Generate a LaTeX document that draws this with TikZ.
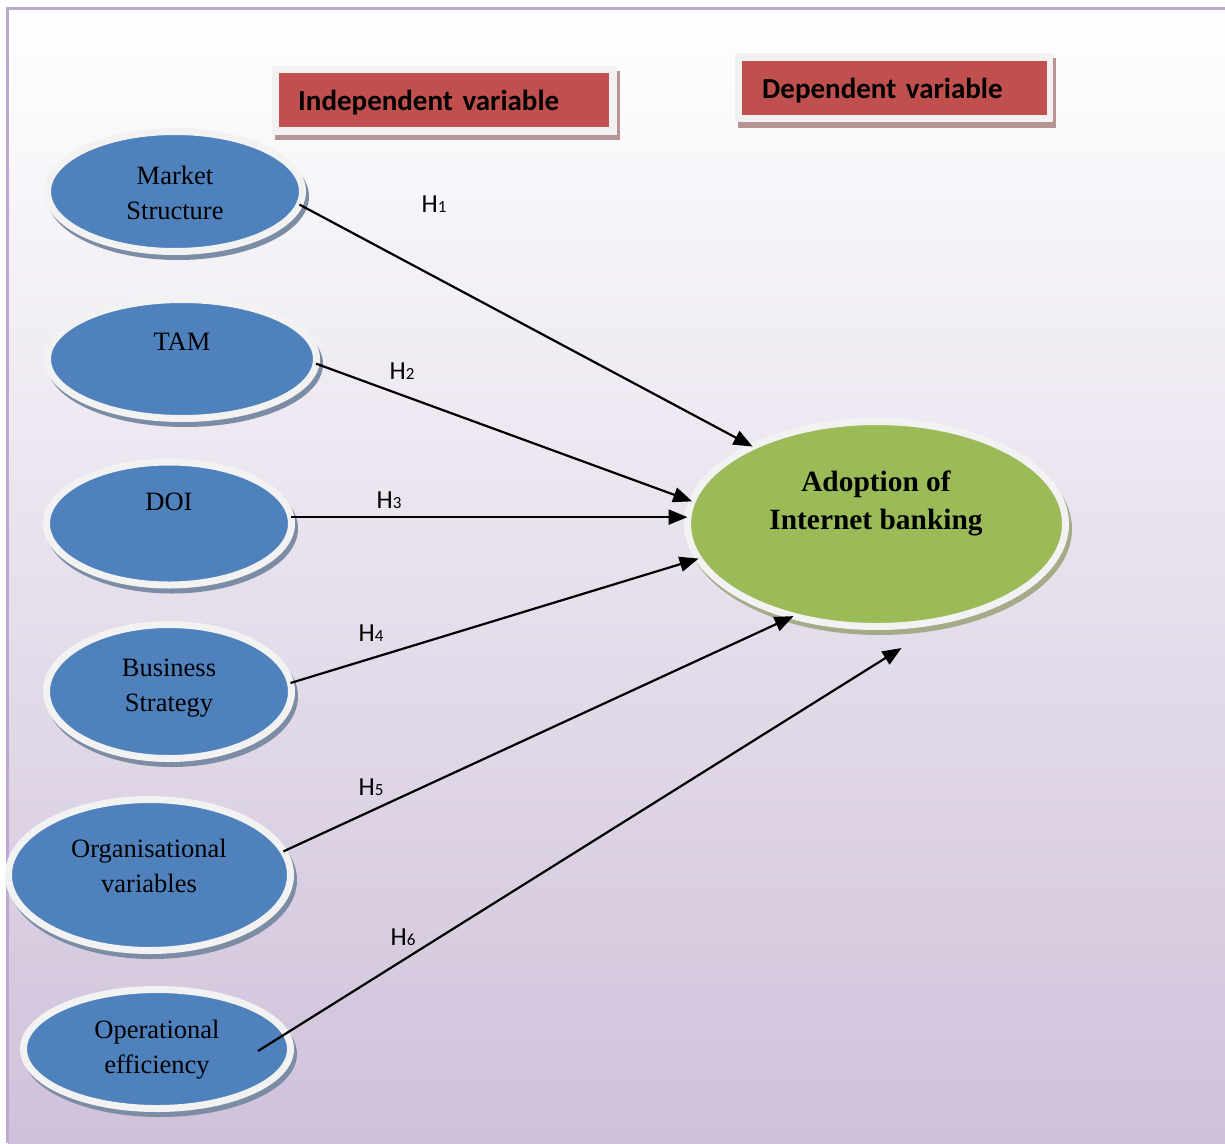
\documentclass[tikz,border=0pt]{standalone}
\usepackage{fontspec}
\setmainfont{Liberation Serif}
\newfontfamily\calibri{Carlito}
\usetikzlibrary{shapes.geometric,arrows.meta,calc}
\definecolor{bluef}{HTML}{4F81BD}
\definecolor{greenf}{HTML}{9BBB59}
\definecolor{ringc}{HTML}{F2F2F2}
\definecolor{redf}{HTML}{C0504D}
\definecolor{framec}{HTML}{BBAAD2}
\definecolor{lavbot}{HTML}{CFC1DA}
\definecolor{bshadow}{HTML}{7D8CA5}
\definecolor{gshadow}{HTML}{A3AB88}
\definecolor{hshadow}{HTML}{B59494}
% ellipse with its drop shadow: name, x, y, radius x, radius y, style
\newcommand\myoval[6]{%
  \node[#6 shade, minimum width={2*#4+14}, minimum height={2*#5+14}] at (#2+3,#3+5) {};
  \node[#6, minimum width={2*#4+7}, minimum height={2*#5+7}] (#1) at (#2,#3) {};
}
\begin{document}
\begin{tikzpicture}[x=1pt,y=-1pt,
  oval/.style={ellipse, inner sep=0pt, outer sep=0pt, draw=ringc, line width=7pt},
  blueoval/.style={oval, fill=bluef},
  greenoval/.style={oval, fill=greenf},
  blueoval shade/.style={ellipse, inner sep=0pt, fill=bshadow},
  greenoval shade/.style={ellipse, inner sep=0pt, fill=gshadow},
  intext/.style={font=\fontsize{26.5}{35}\selectfont, align=center, inner sep=0pt},
  depctext/.style={font=\bfseries\fontsize{29.4}{38}\selectfont, align=center, inner sep=0pt},
  redbox/.style={fill=redf, anchor=north west, inner ysep=0pt, align=left, text depth=0pt,
    font=\calibri\bfseries\fontsize{29}{35}\selectfont},
  hlab/.style={font=\calibri\fontsize{26}{30}\selectfont, inner sep=0pt},
  arr/.style={line width=2.2pt, -{Triangle[length=19pt,width=15pt]}}
]
\useasboundingbox (0,0) rectangle (1225,1143);
\fill[white] (0,0) rectangle (1225,1143);
\shade[top color=white, bottom color=lavbot] (8,9) rectangle (1225,1143);
\fill[framec] (6,7) rectangle (1225,9.5);
\fill[framec] (6,7) rectangle (8.5,1143);

% header boxes
\fill[hshadow] (275,71) rectangle (620,140);
\fill[ringc] (272,66) rectangle (617,135);
\node[redbox, minimum height=54, text width=292, inner xsep=19] (ind) at (279,73) {Independent variable};
\fill[hshadow] (738,58) rectangle (1056,128);
\fill[ringc] (735,53) rectangle (1053,122);
\node[redbox, minimum height=54, text width=265, inner xsep=20] (dep) at (742,61) {Dependent variable};

% independent variables
\myoval{ms}{175}{191.5}{124}{56.5}{blueoval}
\myoval{tam}{182}{359}{131}{56}{blueoval}
\myoval{doi}{169}{523.5}{119}{58}{blueoval}
\myoval{bs}{169}{691.5}{119}{63.5}{blueoval}
\myoval{ov}{149.5}{875}{137.5}{72}{blueoval}
\myoval{oe}{157}{1049}{130}{56}{blueoval}
% dependent variable
\myoval{ad}{876.5}{524}{185.5}{99}{greenoval}

\node[intext] (msT) at (175,193) {Market\\Structure};
\node[intext] (tamT) at (182,342) {TAM};
\node[intext] (doiT) at (169,502) {DOI};
\node[intext] (bsT) at (169,688) {Business\\Strategy};
\node[intext] (ovT) at (149,866) {Organisational\\variables};
\node[intext] (oeT) at (157,1050) {Operational\\efficiency};
\node[depctext] (adT) at (876,503) {Adoption of\\Internet banking};

% hypotheses
\draw[arr] (ms.-6.5) -- (ad.148.3);
\draw[arr] (tam.-2.1) -- (ad.173.7);
\draw[arr] (doi.3.1) -- (doi.3.1 -| ad.west);
\draw[arr] (bs.4) -- (ad.191.6);
\draw[arr] (ov.10.4) -- (ad.228.9);
\draw[arr] ($(oe.center)+(101,2)$) -- ($(ad.center)+(25,124)$);

\node[hlab] (h1) at (434,204) {H{\fontsize{17}{17}\selectfont 1}};
\node[hlab] (h2) at (402,371) {H{\fontsize{17}{17}\selectfont 2}};
\node[hlab] (h3) at (389,500) {H{\fontsize{17}{17}\selectfont 3}};
\node[hlab] (h4) at (371,633) {H{\fontsize{17}{17}\selectfont 4}};
\node[hlab] (h5) at (371,787) {H{\fontsize{17}{17}\selectfont 5}};
\node[hlab] (h6) at (403,937) {H{\fontsize{17}{17}\selectfont 6}};
\end{tikzpicture}
\end{document}
